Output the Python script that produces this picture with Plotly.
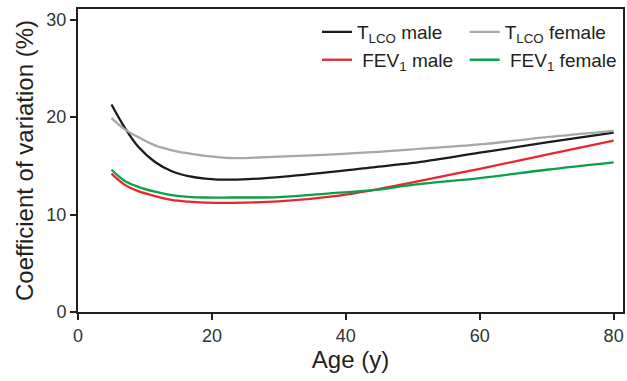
import plotly.graph_objects as go

age = [5, 7, 9, 11.5, 14, 16.5, 19, 23, 30, 39, 44, 50, 60, 70, 80]
tlco_male = [21.3, 18.9, 16.95, 15.4, 14.45, 13.95, 13.7, 13.58, 13.85, 14.45, 14.85, 15.3, 16.35, 17.4, 18.4]
tlco_female = [19.9, 18.75, 17.95, 17.1, 16.6, 16.28, 16.02, 15.8, 15.95, 16.2, 16.4, 16.7, 17.2, 17.95, 18.6]
fev1_male = [14.2, 13.05, 12.4, 11.9, 11.5, 11.32, 11.23, 11.2, 11.35, 11.95, 12.5, 13.3, 14.7, 16.15, 17.6]
fev1_female = [14.6, 13.45, 12.85, 12.35, 12.0, 11.82, 11.75, 11.75, 11.8, 12.25, 12.5, 13.05, 13.75, 14.6, 15.35]

series = [
    ("T<sub>LCO</sub> male", tlco_male, "#1c1a1b", "legend"),
    ("T<sub>LCO</sub> female", tlco_female, "#a7a7a9", "legend2"),
    (" FEV<sub>1</sub> male", fev1_male, "#e8262d", "legend3"),
    (" FEV<sub>1</sub> female", fev1_female, "#0aa04a", "legend4"),
]

fig = go.Figure()
for name, vals, color, lg in series:
    fig.add_trace(go.Scatter(
        x=age, y=vals, name=name, mode="lines",
        line=dict(color=color, width=2.3, shape="spline", smoothing=1.0),
        legend=lg,
    ))

font = "Liberation Sans, Arial, sans-serif"
legend_common = dict(
    orientation="h", xanchor="left", yanchor="middle",
    font=dict(family=font, size=19, color="#231f20"),
    bgcolor="rgba(0,0,0,0)", itemwidth=30,
)

fig.update_layout(
    width=627, height=381,
    margin=dict(l=78, r=2, t=9, b=69),
    paper_bgcolor="white", plot_bgcolor="white",
    font=dict(family=font, color="#231f20"),
    showlegend=True,
    legend=dict(x=0.4385, y=0.924, **legend_common),
    legend2=dict(x=0.7095, y=0.924, **legend_common),
    legend3=dict(x=0.4385, y=0.832, **legend_common),
    legend4=dict(x=0.7095, y=0.832, **legend_common),
    xaxis=dict(
        range=[0, 81.4], tickvals=[0, 20, 40, 60, 80],
        showgrid=False, zeroline=False,
        showline=True, linecolor="#231f20", linewidth=2, mirror=True,
        ticks="outside", ticklen=6, tickwidth=2, tickcolor="#231f20",
        tickfont=dict(family=font, size=18, color="#333333"),
        title=dict(text="Age (y)", font=dict(family=font, size=24, color="#231f20"), standoff=6),
    ),
    yaxis=dict(
        range=[0, 31.1], tickvals=[0, 10, 20, 30],
        showgrid=False, zeroline=False,
        showline=True, linecolor="#231f20", linewidth=2, mirror=True,
        ticks="outside", ticklen=6, tickwidth=2, tickcolor="#231f20",
        tickfont=dict(family=font, size=18, color="#333333"),
        title=dict(text="Coefficient of variation (%)", font=dict(family=font, size=24, color="#231f20"), standoff=6),
    ),
)

fig.write_html(
    "out.html",
    config={"displayModeBar": False},
    post_script="document.body.style.margin='0';document.body.style.overflow='hidden';",
)
